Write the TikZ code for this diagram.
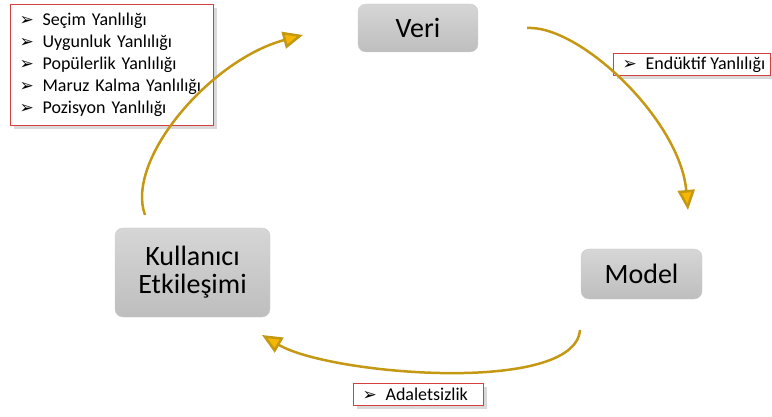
\documentclass[tikz,border=0pt]{standalone}
\usepackage{fontspec}
\setmainfont{Carlito}
\newfontfamily\okfont{DejaVu Sans}
\usetikzlibrary{arrows.meta,shadows}

\definecolor{altin}{RGB}{197,152,20}
\definecolor{altinuc}{RGB}{245,183,0}
\definecolor{kirmizi}{RGB}{214,64,64}
\definecolor{griust}{RGB}{214,214,214}
\definecolor{grialt}{RGB}{190,190,190}
\newcommand\madde{\makebox[23pt][l]{\fontsize{17}{17}\okfont ➢}}

\begin{document}
\begin{tikzpicture}[x=1pt,y=-1pt,
   asama/.style={rounded corners=8pt, draw=gray!40, top color=griust, bottom color=grialt,
                 font=\fontsize{28}{28}\selectfont, align=center, inner sep=0pt},
   etiket/.style={draw=kirmizi, line width=1.2pt, fill=white, anchor=north west,
                  drop shadow={shadow xshift=3pt, shadow yshift=-3pt, opacity=.3, fill=gray},
                  font=\fontsize{18}{22}\selectfont, align=left, inner xsep=9pt, inner ysep=1pt},
   dongu/.style={altin, line width=2.5pt, -{Triangle[length=20pt,width=17pt,fill=altinuc]}}]
   \useasboundingbox (0,0) rectangle (772,417);

   % asamalar
   \node[asama, minimum width=120pt, minimum height=48pt] (veri) at (418,28) {Veri};
   \node[asama, minimum width=121pt, minimum height=50pt] (model) at (641.5,274) {Model};
   \node[asama, minimum width=155pt, minimum height=89pt] (kull) at (192.5,272.5) {Kullanıcı\\Etkileşimi};

   % yanliliklar
   \node[etiket, text width=185pt, minimum height=121pt] (liste) at (10,4)
        {\madde Seçim Yanlılığı\\ \madde Uygunluk Yanlılığı\\ \madde Popülerlik Yanlılığı\\
         \madde Maruz Kalma Yanlılığı\\ \madde Pozisyon Yanlılığı};
   \node[etiket, minimum height=22pt] (enduktif) at (613,53)
        {\makebox[139pt][l]{\madde Endüktif Yanlılığı}};
   \node[etiket, minimum height=22pt] (adalet) at (353,383)
        {\makebox[112pt][l]{\madde Adaletsizlik}};

   % dongu
   \coordinate (k1) at (145,215);
   \coordinate (v1) at (303,35);
   \coordinate (v2) at (527,28);
   \coordinate (m1) at (688,210);
   \coordinate (m2) at (580,330);
   \coordinate (k2) at (262,335);

   \draw[dongu] (k1) .. controls (125,160) and (210,60) .. (v1);
   \draw[dongu] (v2) .. controls (580,25) and (680,120) .. (m1);
   \draw[dongu] (m2) .. controls (575,395) and (330,375) .. (k2);

\end{tikzpicture}
\end{document}
